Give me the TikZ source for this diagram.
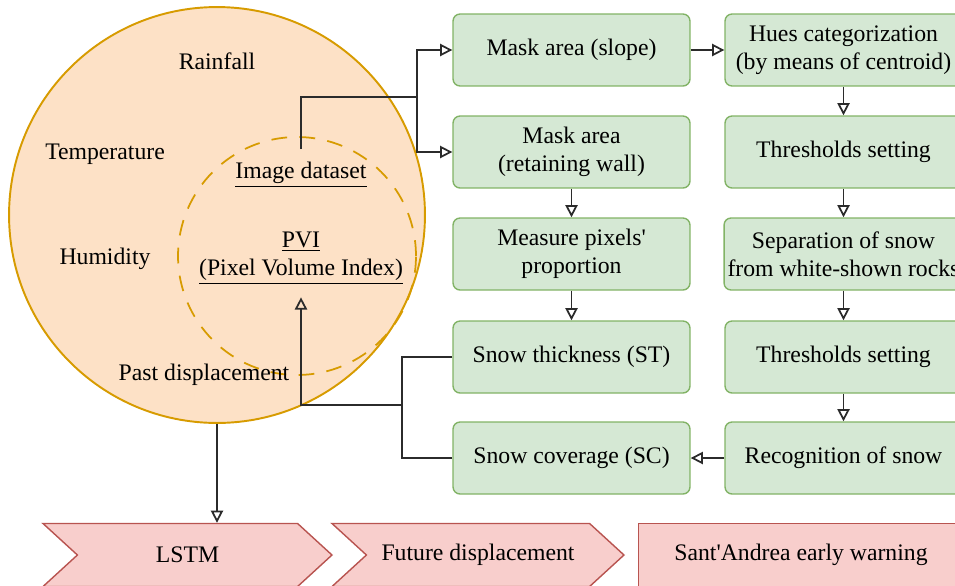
\documentclass[tikz,border=0pt]{standalone}
\usepackage{fontspec}
\setmainfont{Liberation Serif}
\usepackage{xcolor}
\usepackage{tikz}
\usetikzlibrary{shapes,arrows,positioning,calc,arrows.meta}

\definecolor{orgfill}{HTML}{FDE1C6}
\definecolor{orgline}{HTML}{D79B00}
\definecolor{grnfill}{HTML}{D5E8D4}
\definecolor{grnline}{HTML}{82B366}
\definecolor{redfill}{HTML}{F8CECC}
\definecolor{redline}{HTML}{B85450}
\definecolor{linecol}{HTML}{2B2B2B}

\begin{document}
\begin{tikzpicture}[x=0.02cm, y=-0.02cm, >={Triangle[open,length=7pt,width=7pt]},
    font=\fontsize{13.5}{16}\selectfont,
    stepbox/.style={draw=grnline, fill=grnfill, rounded corners=4pt, line width=0.8pt,
        minimum width=4.74cm, minimum height=1.44cm, align=center, inner sep=2pt},
    chev/.style={shape=signal, signal to=east, signal from=west, signal pointer angle=85,
        draw=redline, fill=redfill, line width=0.8pt, minimum height=1.26cm, inner sep=2pt},
    link/.style={draw=linecol, line width=1pt}]
    \useasboundingbox (0,0) rectangle (955,585);

    % Factors
    \node[circle, draw=orgline, fill=orgfill, line width=1.1pt, minimum size=8.32cm] (circ) at (217,215) {};
    \node[circle, draw=orgline, dashed, dash pattern=on 9pt off 7pt, line width=1pt, minimum size=4.76cm] (inner) at (297,256) {};
    \node (rain) at (217,61) {Rainfall};
    \node (temp) at (105,154) {Temperature};
    \node (humi) at (105,259) {Humidity};
    \node (past) at (204,375) {Past displacement};
    \node (img) at (301,175) {\underline{Image dataset}};
    \node[align=center] (pvi) at (301,258) {\underline{PVI}\\\underline{(Pixel Volume Index)}};

    % Image processing
    \node[stepbox] (slope) at (571.5,50) {Mask area (slope)};
    \node[stepbox] (wall) at (571.5,152) {Mask area\\(retaining wall)};
    \node[stepbox] (meas) at (571.5,254) {Measure pixels\textquotesingle\\proportion};
    \node[stepbox] (st) at (571.5,357) {Snow thickness (ST)};
    \node[stepbox] (sc) at (571.5,458) {Snow coverage (SC)};
    \node[stepbox] (hue) at (843.5,50) {Hues categorization\\(by means of centroid)};
    \node[stepbox] (thr1) at (843.5,152) {Thresholds setting};
    \node[stepbox] (sep) at (843.5,254) {Separation of snow\\from white-shown rocks};
    \node[stepbox] (thr2) at (843.5,357) {Thresholds setting};
    \node[stepbox] (rec) at (843.5,458) {Recognition of snow};

    % Prediction
    \node[chev, minimum width=5.78cm] (lstm) at (187.5,555) {LSTM};
    \node[chev, minimum width=5.84cm] (fut) at (478,555) {Future displacement};
    \node[draw=redline, fill=redfill, line width=0.8pt, minimum width=6.5cm, minimum height=1.26cm] (warn) at (801,555) {Sant\textquotesingle Andrea early warning};

    % Connectors
    \coordinate (split1) at (417,97);
    \coordinate (split2) at (402,405);
    \draw[link] ([yshift=4pt]img.north) |- (split1);
    \draw[link,->] (split1) |- (slope.west);
    \draw[link,->] (split1) |- (wall.west);
    \draw[link,->] (slope) -- (hue);
    \draw[link,->] (hue) -- (thr1);
    \draw[link,->] (thr1) -- (sep);
    \draw[link,->] (sep) -- (thr2);
    \draw[link,->] (thr2) -- (rec);
    \draw[link,->] (rec) -- (sc);
    \draw[link,->] (wall) -- (meas);
    \draw[link,->] (meas) -- (st);
    \draw[link] (st.west) -| (split2);
    \draw[link] (sc.west) -| (split2);
    \draw[link,->] (split2) -| ([yshift=-4pt]pvi.south);
    \draw[link,->] (circ.south) -- (circ.south |- lstm.north);
\end{tikzpicture}
\end{document}
